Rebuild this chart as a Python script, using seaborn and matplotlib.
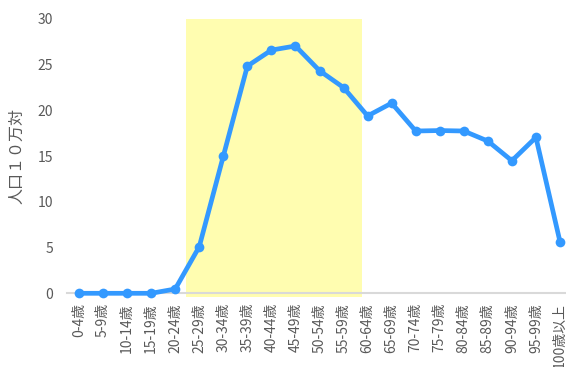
import matplotlib
matplotlib.use("Agg")
import matplotlib.pyplot as plt
import seaborn as sns
import pandas as pd

categories = ["0-4歳", "5-9歳", "10-14歳", "15-19歳", "20-24歳", "25-29歳", "30-34歳",
              "35-39歳", "40-44歳", "45-49歳", "50-54歳", "55-59歳", "60-64歳", "65-69歳",
              "70-74歳", "75-79歳", "80-84歳", "85-89歳", "90-94歳", "95-99歳", "100歳以上"]
values = [0.0, 0.0, 0.0, 0.0, 0.47, 5.1, 15.0, 24.85, 26.6, 27.05, 24.35, 22.5, 19.4,
          20.8, 17.75, 17.8, 17.75, 16.65, 14.5, 17.05, 5.65]
y_ticks = [0, 5, 10, 15, 20, 25, 30]
y_label = "人口１０万対"

sns.set_theme(style="white")
plt.rcParams['font.family'] = ['Noto Sans CJK JP', 'DejaVu Sans']

df = pd.DataFrame({"age": categories, "value": values})
df["pos"] = range(len(df))

fig = plt.figure(figsize=(5.66, 3.67), dpi=100)
ax = fig.add_axes([67/566, (367-293.3)/367, (572-67)/566, 274.3/367])

ax.fill_between([4.44, 11.78], [-0.4, -0.4], [30, 30], color="#FFFDB0", linewidth=0,
                clip_on=False, zorder=0)

sns.lineplot(data=df, x="pos", y="value", ax=ax, color="#3399FF", linewidth=3.4,
             marker="o", markersize=7, markeredgewidth=0, zorder=3, clip_on=False)

ax.set_xlim(-0.5, 20.5)
ax.set_ylim(0, 30)
ax.set_yticks(y_ticks)
ax.set_xticks(df["pos"])
ax.set_xticklabels(categories, rotation=90, fontsize=10, color="#595959")
ax.tick_params(axis="y", labelsize=10, labelcolor="#595959", length=0, pad=10)
ax.tick_params(axis="x", length=0, pad=7)
ax.set_xlabel("")
ax.set_ylabel(y_label, fontsize=11.5, color="#595959")
ax.yaxis.set_label_coords(-0.083, 0.5)

for s in ["top", "right", "left"]:
    ax.spines[s].set_visible(False)
ax.spines["bottom"].set_color("#D9D9D9")
ax.spines["bottom"].set_linewidth(1.5)
ax.spines["bottom"].set_zorder(1)
ax.grid(False)

fig.savefig("out.png", dpi=100)
